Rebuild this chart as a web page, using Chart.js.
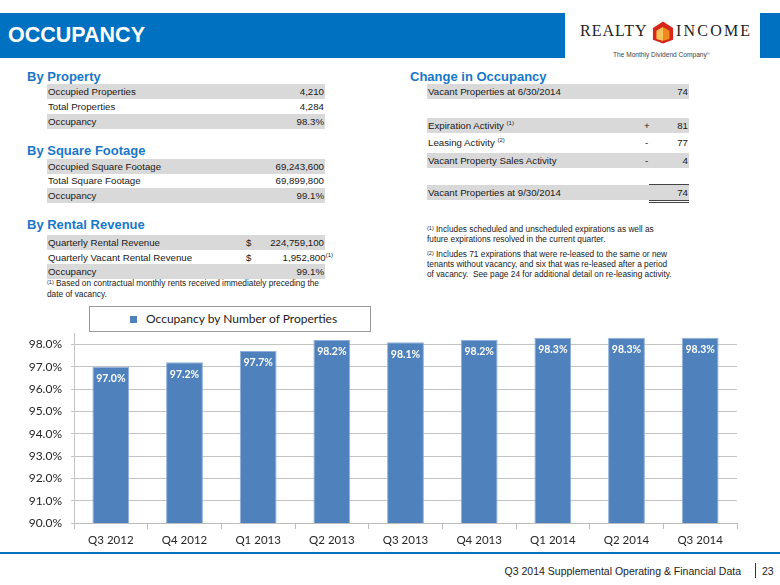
<!DOCTYPE html>
<html>
<head>
<meta charset="utf-8">
<script src="https://cdn.jsdelivr.net/npm/chart.js@4.4.0/dist/chart.umd.min.js"></script>
<style>
  body { margin: 0; background: #fff; font-family: "Liberation Sans", Arial, sans-serif; color: #1a1a1a; }
  #page { position: relative; width: 780px; height: 585px; overflow: hidden; }
  .abs { position: absolute; }
  .head { position: absolute; font-weight: bold; font-size: 13px; line-height: 18px; color: #1877c9; white-space: nowrap; }
  .row { position: absolute; height: 15px; line-height: 15px; font-size: 9.7px; white-space: nowrap; }
  .row.g { background: #d9d9d9; }
  .row .v { position: absolute; right: 1px; top: 0; }
  .row .d { position: absolute; top: 0; }
  sup { font-size: 6px; vertical-align: 0; position: relative; top: -4px; }
  .note { position: absolute; font-size: 8.3px; line-height: 10px; white-space: nowrap; }
  .legend { position: absolute; left: 89px; top: 306px; width: 280px; height: 24px; border: 1px solid #9a9a9a;
            font-family: Lato, sans-serif; font-size: 12px; line-height: 24px; color: #222; }
  .legend i { position: absolute; left: 40px; top: 9px; width: 7px; height: 7px; background: #4f81bd; }
  .legend span { position: absolute; left: 56px; top: 0; }
</style>
</head>
<body>
<div id="page">
  <!-- header band -->
  <div class="abs" style="left:0;top:13px;width:565px;height:45px;background:#0070c0"></div>
  <div class="abs" style="left:760px;top:13px;width:20px;height:45px;background:#0070c0"></div>
  <div class="abs" style="left:8px;top:23px;font-weight:bold;font-size:21.5px;line-height:25px;color:#fff">OCCUPANCY</div>

  <!-- logo -->
  <div class="abs" style="left:580px;top:23px;font-family:'Liberation Serif',serif;font-size:16px;line-height:16px;letter-spacing:1px;color:#222">REALTY</div>
  <svg class="abs" style="left:652px;top:21px" width="22" height="23" viewBox="0 0 24 24">
    <polygon points="12,0 23,7 23,20 12,24 1,20 1,7" fill="#d7261c"/>
    <polygon points="12,6 19,10 19,19 12,21 5,19 5,10" fill="#f08a1e"/>
    <polygon points="12,6 12,21 5,19 5,10" fill="#f8c25a"/>
  </svg>
  <div class="abs" style="left:676px;top:23px;font-family:'Liberation Serif',serif;font-size:16px;line-height:16px;letter-spacing:2.2px;color:#222">INCOME</div>
  <div class="abs" style="left:613px;top:51px;font-size:6.6px;line-height:8px;color:#444">The Monthly Dividend Company<sup style="font-size:4px;top:-2px">®</sup></div>

  <!-- left side tables -->
  <div class="head" style="left:27px;top:68px">By Property</div>
  <div class="row g" style="left:47px;top:84px;width:278px"><span style="padding-left:1px">Occupied Properties</span><span class="v">4,210</span></div>
  <div class="row" style="left:47px;top:99px;width:278px"><span style="padding-left:1px">Total Properties</span><span class="v">4,284</span></div>
  <div class="row g" style="left:47px;top:113.5px;width:278px"><span style="padding-left:1px">Occupancy</span><span class="v">98.3%</span></div>

  <div class="head" style="left:27px;top:142px">By Square Footage</div>
  <div class="row g" style="left:47px;top:158.5px;width:278px"><span style="padding-left:1px">Occupied Square Footage</span><span class="v">69,243,600</span></div>
  <div class="row" style="left:47px;top:173px;width:278px"><span style="padding-left:1px">Total Square Footage</span><span class="v">69,899,800</span></div>
  <div class="row g" style="left:47px;top:187.5px;width:278px"><span style="padding-left:1px">Occupancy</span><span class="v">99.1%</span></div>

  <div class="head" style="left:27px;top:216px">By Rental Revenue</div>
  <div class="row g" style="left:47px;top:235px;width:278px"><span style="padding-left:1px">Quarterly Rental Revenue</span><span class="d" style="left:199px">$</span><span class="v">224,759,100</span></div>
  <div class="row" style="left:47px;top:249.5px;width:278px"><span style="padding-left:1px">Quarterly Vacant Rental Revenue</span><span class="d" style="left:199px">$</span><span class="v" style="right:-8px">1,952,800<sup>(1)</sup></span></div>
  <div class="row g" style="left:47px;top:264px;width:278px"><span style="padding-left:1px">Occupancy</span><span class="v">99.1%</span></div>
  <div class="note" style="left:47px;top:278px"><sup style="font-size:5.5px;top:-2px">(1)</sup> Based on contractual monthly rents received immediately preceding the</div>
  <div class="note" style="left:47px;top:288.5px">date of vacancy.</div>

  <!-- right side table -->
  <div class="head" style="left:410px;top:68px">Change in Occupancy</div>
  <div class="row g" style="left:427px;top:84px;width:262px"><span style="padding-left:1px">Vacant Properties at 6/30/2014</span><span class="v">74</span></div>
  <div class="row g" style="left:427px;top:118px;width:262px"><span style="padding-left:1px">Expiration Activity <sup>(1)</sup></span><span class="d" style="left:217px">+</span><span class="v">81</span></div>
  <div class="row" style="left:427px;top:135px;width:262px"><span style="padding-left:1px">Leasing Activity <sup>(2)</sup></span><span class="d" style="left:218px">-</span><span class="v">77</span></div>
  <div class="row g" style="left:427px;top:152.5px;width:262px"><span style="padding-left:1px">Vacant Property Sales Activity</span><span class="d" style="left:218px">-</span><span class="v">4</span></div>
  <div class="row g" style="left:427px;top:185px;width:262px"><span style="padding-left:1px">Vacant Properties at 9/30/2014</span><span class="v">74</span></div>
  <div class="abs" style="left:649px;top:184px;width:40px;height:15px;border-top:1px solid #444;border-bottom:3px double #444"></div>

  <div class="note" style="left:427px;top:224px"><sup style="font-size:5.5px;top:-2px">(1)</sup> Includes scheduled and unscheduled expirations as well as</div>
  <div class="note" style="left:427px;top:234px">future expirations resolved in the current quarter.</div>
  <div class="note" style="left:427px;top:249px"><sup style="font-size:5.5px;top:-2px">(2)</sup> Includes 71 expirations that were re-leased to the same or new</div>
  <div class="note" style="left:427px;top:259px">tenants without vacancy, and six that was re-leased after a period</div>
  <div class="note" style="left:427px;top:269px">of vacancy.&nbsp; See page 24 for additional detail on re-leasing activity.</div>

  <!-- chart -->
  <div class="legend"><i></i><span>Occupancy by Number of Properties</span></div>
  <canvas id="occ" class="abs" style="left:0;top:317px" width="760" height="244"></canvas>

  <!-- footer -->
  <div class="abs" style="left:0;top:552px;width:780px;height:2px;background:#0070c0"></div>
  <div class="abs" style="right:39px;top:565px;font-size:10.5px;line-height:12px;color:#222;white-space:nowrap">Q3 2014 Supplemental Operating &amp; Financial Data</div>
  <div class="abs" style="left:755px;top:563px;width:1px;height:15px;background:#333"></div>
  <div class="abs" style="left:762px;top:565px;font-size:10.5px;line-height:12px;color:#222">23</div>
</div>

<script>
const quarters = ['Q3 2012', 'Q4 2012', 'Q1 2013', 'Q2 2013', 'Q3 2013', 'Q4 2013', 'Q1 2014', 'Q2 2014', 'Q3 2014'];
const occupancy = [97.0, 97.2, 97.7, 98.2, 98.1, 98.2, 98.3, 98.3, 98.3];
const yTicks = [90, 91, 92, 93, 94, 95, 96, 97, 98];

// white value labels just inside the top of each bar
const barLabels = {
    id: 'barLabels',
    afterDatasetsDraw(chart) {
        const ctx = chart.ctx;
        const meta = chart.getDatasetMeta(0);
        ctx.save();
        ctx.font = 'bold 10.5px Lato';
        ctx.fillStyle = '#ffffff';
        ctx.textAlign = 'center';
        ctx.textBaseline = 'middle';
        meta.data.forEach((bar, i) => {
            ctx.fillText(occupancy[i].toFixed(1) + '%', bar.x, bar.y + 12);
        });
        ctx.restore();
    }
};

function buildChart() {
    const ctx = document.getElementById('occ');
    new Chart(ctx, {
        type: 'bar',
        data: {
            labels: quarters,
            datasets: [{
                label: 'Occupancy by Number of Properties',
                data: occupancy,
                backgroundColor: '#4f81bd',
                borderColor: '#8fb0da',
                borderWidth: 1,
                categoryPercentage: 0.5,
                barPercentage: 1
            }]
        },
        options: {
            responsive: false,
            animation: false,
            layout: { padding: { top: 1, right: 23, left: 0, bottom: 0 } },
            plugins: { legend: { display: false }, tooltip: { enabled: false } },
            scales: {
                x: {
                    grid: { offset: true, drawOnChartArea: false, tickLength: 6, color: '#bcbcbc' },
                    border: { color: '#bcbcbc' },
                    ticks: { color: '#262626', padding: 4, font: { family: 'Lato', size: 11.5 } },
                    afterFit: s => { s.height = 38; }
                },
                y: {
                    min: 90,
                    max: 98.5,
                    afterBuildTicks: s => { s.ticks = yTicks.map(v => ({ value: v })); },
                    grid: { color: '#c4c4c4', tickLength: 3 },
                    border: { color: '#c4c4c4' },
                    ticks: {
                        color: '#262626',
                        padding: 9,
                        font: { family: 'Lato', size: 12 },
                        callback: v => v.toFixed(1) + '%'
                    },
                    afterFit: s => { s.width = 74; }
                }
            }
        },
        plugins: [barLabels]
    });
}

Promise.all([
    document.fonts.load('12px Lato'),
    document.fonts.load('bold 10.5px Lato')
]).then(buildChart, buildChart);
</script>
</body>
</html>
